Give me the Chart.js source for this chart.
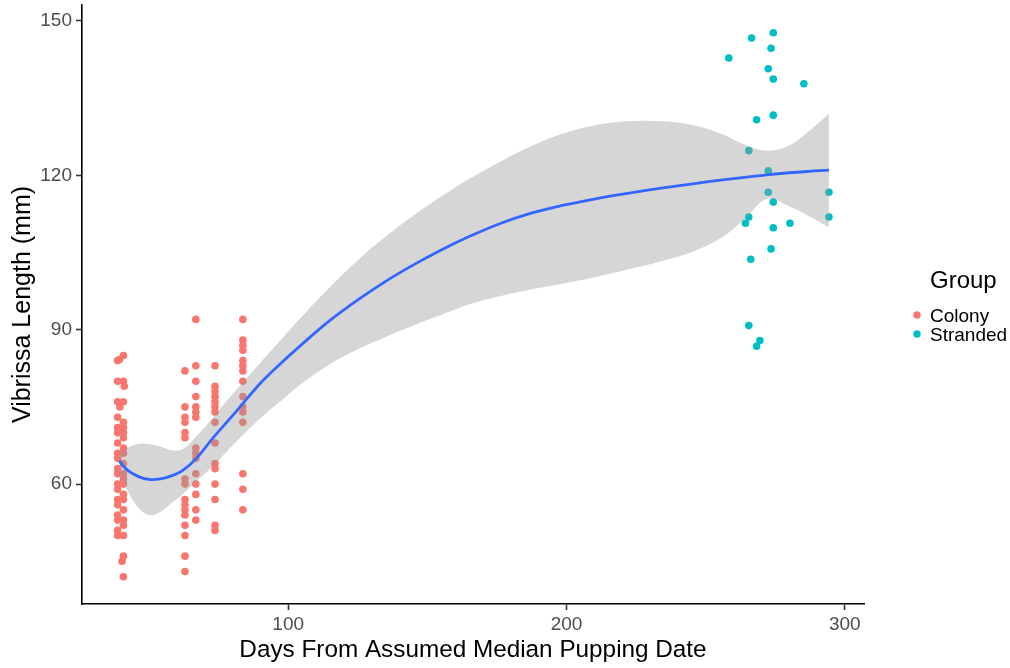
<!DOCTYPE html>
<html>
<head>
<meta charset="utf-8">
<script src="https://cdn.jsdelivr.net/npm/chart.js@4.4.1/dist/chart.umd.min.js"></script>
<style>
  html, body { margin: 0; padding: 0; background: #ffffff; }
  #wrap { position: relative; width: 1010px; height: 668px; }
</style>
</head>
<body>
<div id="wrap"><canvas id="c"></canvas></div>
<script>
// ---------- DATA ----------
const xTitle = 'Days From Assumed Median Pupping Date';
const yTitle = 'Vibrissa Length (mm)';
const legendTitle = 'Group';
const groupNames = ['Colony', 'Stranded'];
const xTicks = [100, 200, 300];
const yTicks = [60, 90, 120, 150];

const colonyX = [
  40.8, 38.7, 39.4, 38.7, 40.8, 41.1, 38.7, 40.8, 39.5,
  38.7, 38.7, 38.7, 38.7, 38.7, 38.7, 38.7, 38.7, 38.7, 38.7, 38.7, 38.7, 38.7, 38.7, 38.7, 38.7,
  40.8, 40.8, 40.8, 40.8, 40.8, 40.8, 40.8, 40.8, 40.8, 40.8, 40.8, 40.8, 40.8, 40.8, 40.8, 40.8,
  40.8, 40.3, 40.8,
  62.9, 62.9, 62.9, 62.9, 62.9, 62.9, 62.9, 62.9, 62.9, 62.9, 62.9, 62.9, 62.9, 62.9, 62.9, 62.9,
  66.8, 66.8, 66.8, 66.8, 66.8, 66.8, 66.8, 66.8, 66.8, 66.8, 66.8, 66.8, 66.8, 66.8, 66.8,
  73.7, 73.7, 73.7, 73.7, 73.7, 73.7, 73.7, 73.7, 73.7, 73.7, 73.7, 73.7, 73.7, 73.7, 73.7,
  83.7, 83.7, 83.7, 83.7, 83.7, 83.7, 83.7, 83.7, 83.7, 83.7, 83.7, 83.7, 83.7, 83.7, 83.7
];
const colonyY = [
  85, 84, 84.2, 80, 80, 79, 76, 76, 75,
  73, 71, 70, 68, 66, 65, 63, 62, 60, 59, 57, 56, 54, 53, 51, 50,
  72, 71, 70, 69, 67, 66, 64, 62, 61, 60, 58, 57, 55, 53, 52, 50,
  46, 45, 42,
  82, 75, 73, 72, 70, 69, 61, 60, 57, 56, 55, 54, 52, 50, 46, 43,
  92, 83, 80, 77, 75, 74, 73, 67, 66, 65, 62, 60, 58, 55, 53,
  83, 79, 78, 77, 76, 75, 74, 72, 68, 64, 63, 60, 57, 52, 51,
  92, 88, 87, 86, 84, 83, 82, 80, 77, 75, 74, 72, 62, 59, 55
];

const strandedX = [274.3, 266.5, 273.5, 258.3, 272.5, 274.3, 285.3, 268.3, 274.3, 265.5, 272.5, 272.5,
  294.3, 274.3, 265.5, 264.3, 294.3, 280.3, 274.3, 273.5, 266.2, 265.5, 269.5, 268.3];
const strandedY = [147.7, 146.7, 144.7, 142.8, 140.7, 138.7, 137.8, 130.8, 131.7, 124.8, 120.9, 116.7,
  116.7, 114.8, 111.9, 110.7, 111.9, 110.7, 109.8, 105.7, 103.7, 90.8, 87.9, 86.8];

// smoother curve and its confidence ribbon
const smoothX = [39.3, 42, 46, 50, 54, 58, 62, 67, 73, 80, 90, 97, 105, 115, 125, 135, 145, 155, 165,
  176, 187, 198, 210, 222, 234, 246, 256, 264, 272, 280, 288, 294.3];
const smoothY = [64.5, 62.8, 61.5, 60.9, 61.0, 61.6, 62.6, 65.0, 69.0, 73.3, 79.6, 83.3, 87.2, 91.8, 95.8,
  99.4, 102.6, 105.5, 108.1, 110.6, 112.6, 114.1, 115.4, 116.5, 117.5, 118.4, 119.1, 119.6, 120.1, 120.5, 120.8, 121.0];
const ribbonHigh = [66.0, 67.0, 67.8, 67.8, 67.3, 66.6, 66.8, 69.3, 73.0, 77.5, 83.6, 87.8, 92.6, 98.3, 103.5,
  108.1, 112.2, 115.9, 119.3, 122.6, 125.6, 128.0, 129.7, 130.5, 130.5, 129.7, 128.0, 126.0, 124.8, 125.8, 129.0, 131.9];
const ribbonLow = [62.0, 59.0, 55.5, 54.0, 54.6, 56.3, 58.0, 60.5, 63.5, 67.5, 72.8, 76.0, 79.6, 83.3, 86.2,
  88.6, 90.8, 92.9, 94.9, 96.5, 97.8, 98.9, 100.2, 101.7, 103.3, 105.3, 108.0, 111.5, 115.4, 114.0, 111.8, 109.9];

// ---------- STYLE ----------
const FONT = '"Liberation Sans", Arial, Helvetica, sans-serif';
const colonyColor = '#F8766D';
const strandedColor = '#00BFC4';
const groupColors = [colonyColor, strandedColor];

const toPts = (xs, ys) => xs.map((x, i) => ({ x: x, y: ys[i] }));

const legendPlugin = {
  id: 'groupLegend',
  afterDraw(chart) {
    const ctx = chart.ctx;
    const a = chart.chartArea;
    const textX = a.right + 66;
    const dotX = a.right + 53;
    ctx.save();
    ctx.fillStyle = '#000000';
    ctx.textAlign = 'left';
    ctx.textBaseline = 'alphabetic';
    ctx.font = '24px ' + FONT;
    ctx.fillText(legendTitle, textX, 288);
    ctx.font = '19px ' + FONT;
    const rows = [315, 334];
    groupNames.forEach((name, i) => {
      ctx.fillStyle = groupColors[i];
      ctx.beginPath();
      ctx.arc(dotX, rows[i], 3.7, 0, Math.PI * 2);
      ctx.fill();
      ctx.fillStyle = '#000000';
      ctx.fillText(name, textX, rows[i] + 6.8);
    });
    ctx.restore();
  }
};

new Chart(document.getElementById('c'), {
  type: 'scatter',
  data: {
    datasets: [
      {
        label: 'fit', data: toPts(smoothX, smoothY), showLine: true,
        borderColor: '#3366FF', borderWidth: 2.8, pointRadius: 0, fill: false,
        tension: 0.4, order: 0
      },
      {
        label: 'low', data: toPts(smoothX, ribbonLow), showLine: true,
        borderColor: 'rgba(0,0,0,0)', borderWidth: 0, pointRadius: 0, fill: false,
        tension: 0.4, order: 1
      },
      {
        label: 'high', data: toPts(smoothX, ribbonHigh), showLine: true,
        borderColor: 'rgba(0,0,0,0)', borderWidth: 0, pointRadius: 0,
        fill: '-1', backgroundColor: 'rgba(153,153,153,0.4)',
        tension: 0.4, order: 1
      },
      {
        label: groupNames[0], data: toPts(colonyX, colonyY),
        backgroundColor: colonyColor, borderWidth: 0, pointRadius: 3.8, pointHoverRadius: 3.8, order: 3
      },
      {
        label: groupNames[1], data: toPts(strandedX, strandedY),
        backgroundColor: strandedColor, borderWidth: 0, pointRadius: 3.8, pointHoverRadius: 3.8, order: 3
      }
    ]
  },
  options: {
    responsive: true,
    maintainAspectRatio: false,
    animation: false,
    events: [],
    layout: { padding: { left: 0, right: 146, top: 5, bottom: 0 } },
    plugins: {
      legend: { display: false },
      tooltip: { enabled: false },
      filler: { propagate: false }
    },
    scales: {
      x: {
        type: 'linear', min: 25.9, max: 306.9,
        afterBuildTicks: (s) => { s.ticks = xTicks.map(v => ({ value: v })); },
        afterFit: (s) => { s.height = 64; s.paddingLeft = 0; s.paddingRight = 0; },
        ticks: { font: { family: FONT, size: 19 }, color: '#4D4D4D', padding: 3, maxRotation: 0, autoSkip: false },
        grid: { display: true, drawOnChartArea: false, drawTicks: true, tickLength: 6, tickColor: '#333333', tickWidth: 1.6 },
        border: { display: true, color: '#000000', width: 1.6 },
        title: { display: true, text: xTitle, color: '#000000', font: { family: FONT, size: 24.3 }, padding: { top: 0, bottom: 3 } }
      },
      y: {
        type: 'linear', min: 36.7, max: 153.1,
        afterBuildTicks: (s) => { s.ticks = yTicks.map(v => ({ value: v })); },
        afterFit: (s) => { s.width = 82; s.paddingTop = 0; s.paddingBottom = 0; },
        ticks: { font: { family: FONT, size: 19 }, color: '#4D4D4D', padding: 4, autoSkip: false },
        grid: { display: true, drawOnChartArea: false, drawTicks: true, tickLength: 6, tickColor: '#333333', tickWidth: 1.6 },
        border: { display: true, color: '#000000', width: 1.6 },
        title: { display: true, text: yTitle, color: '#000000', font: { family: FONT, size: 25 }, padding: { top: 8, bottom: 0 } }
      }
    }
  },
  plugins: [legendPlugin]
});
</script>
</body>
</html>
